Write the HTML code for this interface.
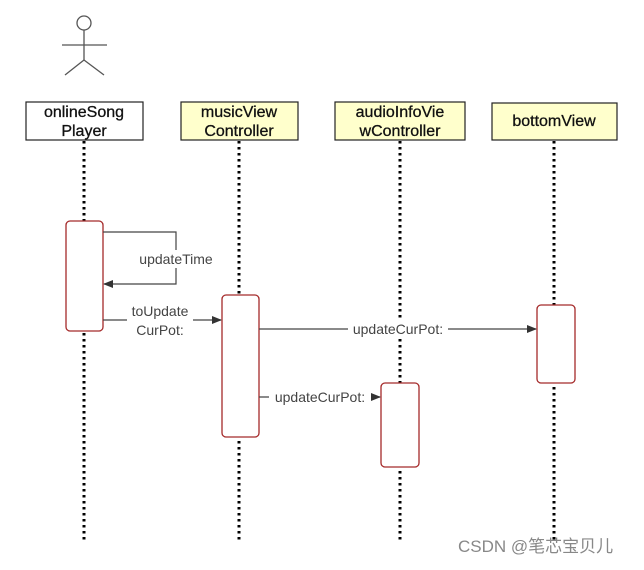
<!DOCTYPE html>
<html><head><meta charset="utf-8"><style>
body{margin:0;background:#fff;width:644px;height:565px;overflow:hidden}
svg text{font-family:"Liberation Sans",Arial,sans-serif}
</style></head><body>
<svg width="644" height="565" xmlns="http://www.w3.org/2000/svg">
<defs><marker id="a" markerWidth="10" markerHeight="8" refX="9" refY="4" orient="auto" markerUnits="userSpaceOnUse"><path d="M0,0 L10,4 L0,8 z" fill="#333"/></marker></defs>
<g stroke="#555" stroke-width="1.3" fill="none">
<circle cx="84" cy="23" r="7" fill="#fff"/>
<line x1="84" y1="30" x2="84" y2="60"/><line x1="62" y1="45" x2="107" y2="45"/>
<line x1="84" y1="60" x2="65" y2="75"/><line x1="84" y1="60" x2="104" y2="75"/>
</g>
<g stroke="#000" stroke-width="3" stroke-dasharray="2.5,3.5">
<line x1="84" y1="141" x2="84" y2="542"/><line x1="239" y1="141" x2="239" y2="542"/>
<line x1="400" y1="141" x2="400" y2="542"/><line x1="554" y1="141" x2="554" y2="542"/>
</g>
<g stroke="#222" stroke-width="1.2">
<rect x="26" y="102" width="117" height="38" fill="#fff"/>
<rect x="181" y="102" width="117" height="38" fill="#ffffcc"/>
<rect x="335" y="102" width="130" height="38" fill="#ffffcc"/>
<rect x="492" y="103" width="125" height="37" fill="#ffffcc"/>
</g>
<g font-size="16" text-anchor="middle" fill="#111" stroke="#111" stroke-width="0.3">
<text x="84" y="117">onlineSong</text><text x="84" y="136">Player</text>
<text x="239" y="117">musicView</text><text x="239" y="136">Controller</text>
<text x="400" y="117">audioInfoVie</text><text x="400" y="136">wController</text>
<text x="554" y="126">bottomView</text>
</g>
<g fill="#fff" stroke="#a52a2a" stroke-width="1.3">
<rect x="66" y="221" width="37" height="110" rx="4"/>
<rect x="222" y="295" width="37" height="142" rx="4"/>
<rect x="381" y="383" width="38" height="84" rx="4"/>
<rect x="537" y="305" width="38" height="78" rx="4"/>
</g>
<g stroke="#444" stroke-width="1.2" fill="none">
<polyline points="103,232 176,232 176,284 104,284" marker-end="url(#a)"/>
<line x1="103" y1="320" x2="221" y2="320" marker-end="url(#a)"/>
<line x1="259" y1="329" x2="536" y2="329" marker-end="url(#a)"/>
<line x1="259" y1="397" x2="380" y2="397" marker-end="url(#a)"/>
</g>
<g font-size="14" text-anchor="middle" fill="#444">
<rect x="134" y="250" width="84" height="18" fill="#fff"/>
<text x="176" y="264">updateTime</text>
<rect x="127" y="304" width="66" height="36" fill="#fff"/>
<text x="160" y="316">toUpdate</text><text x="160" y="335">CurPot:</text>
<rect x="348" y="321" width="100" height="16" fill="#fff"/>
<text x="398" y="334">updateCurPot:</text>
<rect x="269" y="389" width="102" height="16" fill="#fff"/>
<text x="320" y="402">updateCurPot:</text>
</g>
<text x="458" y="552" font-size="17" fill="#888" style='font-family:"Liberation Sans","Noto Sans CJK SC",sans-serif'>CSDN @笔芯宝贝儿</text>
</svg>
</body></html>
